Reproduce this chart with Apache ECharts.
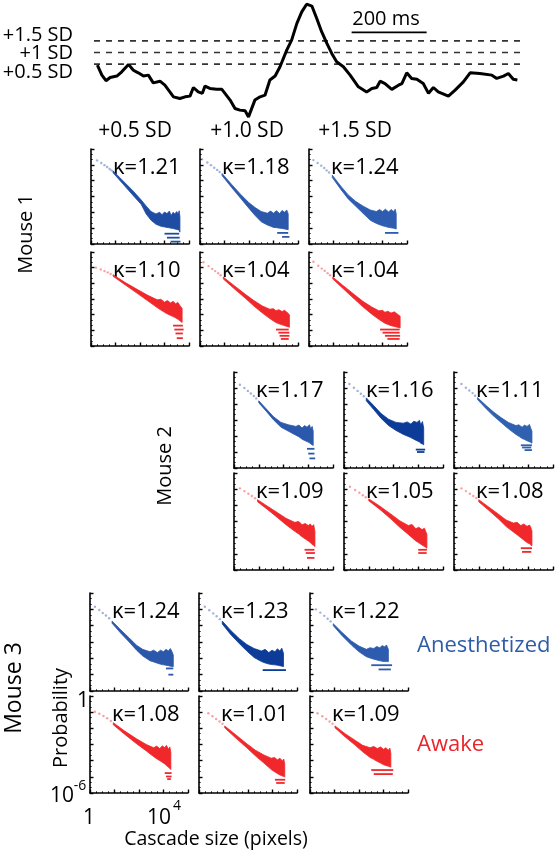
<!DOCTYPE html>
<html><head><meta charset="utf-8">
<script src="https://cdn.jsdelivr.net/npm/echarts@6/dist/echarts.min.js"></script>
<style>html,body{margin:0;padding:0;background:#fff}#c{width:559px;height:853px}</style>
</head><body><div id="c"></div><script>
// ---------------- DATA ----------------
// top trace (time in ms, amplitude in SD units)
const traceTimeMs = [9,21,32,43,61,74,92,105,118,132,145,158,176,189,212,229,243,256,265,278,289,296,309,327,341,363,376,389,403,412,429,443,456,469,483,496,514,527,541,554,567,581,594,607,621,634,647,665,683,705,727,741,754,763,776,794,812,821,834,847,861,878,892,905,918,945,963,985,1003,1029,1061,1074,1092,1105,1118,1129];
const traceSD = [0.46,0.03,-0.21,-0.07,-0.01,0.17,0.49,0.24,0.13,-0.01,0.03,-0.30,-0.23,-0.40,-0.90,-0.97,-0.90,-0.87,-0.50,-0.69,-0.75,-0.44,-0.54,-0.57,-0.58,-1.04,-1.40,-1.47,-1.50,-1.76,-1.04,-0.90,-0.83,-0.18,-0.01,0.39,1.10,1.53,2.25,2.74,3.07,2.99,2.46,1.89,1.39,0.96,0.60,0.39,0.03,-0.47,-0.69,-0.54,-0.50,-0.23,-0.33,-0.58,-0.40,-0.33,0.13,-0.11,-0.15,-0.33,-0.75,-0.50,-0.69,-0.87,-0.61,-0.26,0.13,0.10,0.03,-0.11,-0.01,0.10,-0.15,-0.18];
const thresholdsSD = [0.5, 1.0, 1.5];
const thresholdSpanMs = [0, 1136];
const thresholdLabels = ['+0.5 SD', '+1 SD', '+1.5 SD'];
const scaleBarMs = [687, 887];
const scaleBarSD = 1.86;
const scaleBarLabel = '200 ms';
const columnLabels = ['+0.5 SD', '+1.0 SD', '+1.5 SD'];
const mouseLabels = ['Mouse 1', 'Mouse 2', 'Mouse 3'];
const stateLabels = ['Anesthetized', 'Awake'];

// exponents kappa
const kappaM1Anes = [1.21, 1.18, 1.24];
const kappaM1Awake = [1.10, 1.04, 1.04];
const kappaM2Anes = [1.17, 1.16, 1.11];
const kappaM2Awake = [1.09, 1.05, 1.08];
const kappaM3Anes = [1.24, 1.23, 1.22];
const kappaM3Awake = [1.08, 1.01, 1.09];

// Cascade size distributions, log10 units: dots [log size, log P],
// body columns [log size, upper log P, lower log P], bands [log size from, log size to, log P]
const m1a05Dots = [[0.25,-0.72],[0.42,-0.88],[0.55,-1.02],[0.66,-1.14],[0.76,-1.26],[0.84,-1.35]];
const m1a05Body = [[0.9,-1.38,-1.5],[1.3,-2.0,-2.2],[1.7,-2.62,-2.9],[2.05,-3.22,-3.5],[2.25,-3.6,-4.1],[2.45,-3.95,-4.5],[2.65,-4.1,-4.75],[2.8,-4.0,-4.85],[2.9,-4.15,-4.9],[3.0,-3.98,-4.92],[3.1,-4.08,-4.95],[3.2,-3.92,-4.98],[3.27,-4.2,-5.0],[3.35,-4.0,-5.02],[3.42,-4.1,-5.05],[3.5,-3.95,-5.08],[3.56,-4.12,-5.1],[3.6,-3.9,-5.15],[3.63,-4.3,-5.25]];
const m1a05Bands = [[3.0,3.6,-5.35],[3.1,3.62,-5.6],[3.25,3.65,-5.85]];
const m1a10Dots = [[0.08,-0.65],[0.3,-0.85],[0.45,-1.02],[0.58,-1.18],[0.7,-1.32],[0.8,-1.45]];
const m1a10Body = [[0.9,-1.55,-1.68],[1.3,-2.25,-2.45],[1.65,-2.85,-3.1],[2.0,-3.4,-3.75],[2.25,-3.7,-4.2],[2.5,-3.95,-4.6],[2.75,-4.05,-4.8],[2.88,-3.92,-4.88],[3.0,-4.05,-4.95],[3.12,-3.9,-4.97],[3.25,-4.08,-5.0],[3.35,-3.88,-5.02],[3.45,-4.0,-5.05],[3.54,-3.85,-5.08],[3.6,-4.1,-5.1]];
const m1a10Bands = [[3.15,3.6,-5.3],[3.35,3.65,-5.55]];
const m1a15Dots = [[0.18,-0.7],[0.35,-0.88],[0.5,-1.05],[0.62,-1.2],[0.72,-1.35],[0.82,-1.48]];
const m1a15Body = [[0.95,-1.65,-1.8],[1.3,-2.35,-2.55],[1.6,-2.9,-3.15],[1.9,-3.3,-3.6],[2.2,-3.6,-4.05],[2.5,-3.85,-4.5],[2.75,-3.95,-4.7],[2.88,-3.82,-4.78],[3.0,-3.95,-4.85],[3.12,-3.8,-4.9],[3.25,-3.98,-4.95],[3.35,-3.82,-4.98],[3.45,-3.95,-5.0],[3.52,-3.8,-5.03],[3.56,-4.1,-5.05]];
const m1a15Bands = [[3.1,3.65,-5.3]];

const m1w05Dots = [[0.2,-1.0],[0.4,-1.12],[0.55,-1.22],[0.68,-1.3],[0.8,-1.4]];
const m1w05Body = [[0.9,-1.45,-1.55],[1.4,-1.95,-2.1],[1.9,-2.4,-2.65],[2.3,-2.75,-3.1],[2.7,-3.05,-3.55],[2.85,-3.02,-3.7],[3.0,-3.2,-3.85],[3.12,-3.1,-3.95],[3.25,-3.25,-4.05],[3.35,-3.15,-4.12],[3.45,-3.3,-4.2],[3.55,-3.22,-4.3],[3.62,-3.4,-4.38],[3.72,-3.6,-4.5]];
const m1w05Bands = [[3.35,3.75,-4.7],[3.4,3.78,-4.95],[3.45,3.75,-5.2],[3.5,3.75,-5.5]];
const m1w10Dots = [[0.14,-0.65],[0.35,-0.9],[0.5,-1.08],[0.62,-1.22],[0.74,-1.36],[0.84,-1.48]];
const m1w10Body = [[0.95,-1.6,-1.72],[1.4,-2.15,-2.35],[1.85,-2.7,-2.95],[2.2,-3.1,-3.45],[2.55,-3.45,-3.9],[2.85,-3.65,-4.25],[3.0,-3.62,-4.4],[3.1,-3.75,-4.5],[3.22,-3.68,-4.58],[3.35,-3.8,-4.65],[3.45,-3.72,-4.7],[3.55,-3.85,-4.75],[3.65,-4.0,-4.8]];
const m1w10Bands = [[3.1,3.62,-4.95],[3.2,3.65,-5.15],[3.25,3.65,-5.35],[3.3,3.62,-5.55]];
const m1w15Dots = [[0.18,-0.62],[0.38,-0.88],[0.52,-1.06],[0.64,-1.2],[0.76,-1.35],[0.86,-1.48]];
const m1w15Body = [[0.97,-1.6,-1.72],[1.4,-2.15,-2.35],[1.85,-2.72,-3.0],[2.2,-3.15,-3.5],[2.55,-3.5,-3.95],[2.85,-3.75,-4.3],[3.0,-3.72,-4.45],[3.1,-3.85,-4.55],[3.22,-3.78,-4.62],[3.35,-3.9,-4.7],[3.48,-3.82,-4.75],[3.6,-3.95,-4.8],[3.72,-4.1,-4.85]];
const m1w15Bands = [[2.9,3.7,-4.95],[3.0,3.7,-5.15],[3.1,3.72,-5.35],[3.2,3.7,-5.55]];

const m2a05Dots = [[0.24,-0.8],[0.42,-1.0],[0.56,-1.18],[0.68,-1.34],[0.8,-1.5],[0.9,-1.65]];
const m2a05Body = [[1.0,-1.8,-1.92],[1.3,-2.3,-2.45],[1.6,-2.8,-3.0],[1.9,-3.15,-3.45],[2.2,-3.3,-3.7],[2.5,-3.4,-3.95],[2.62,-3.32,-4.05],[2.75,-3.5,-4.2],[2.85,-3.35,-4.28],[2.95,-3.45,-4.35],[3.05,-3.3,-4.42],[3.1,-3.55,-4.5],[3.16,-3.4,-4.55],[3.2,-3.7,-4.6]];
const m2a05Bands = [[2.95,3.25,-4.8],[3.0,3.25,-5.1],[3.05,3.28,-5.4]];
const m2a10Dots = [[0.22,-0.75],[0.4,-0.98],[0.55,-1.18],[0.68,-1.36],[0.8,-1.52]];
const m2a10Body = [[0.9,-1.62,-1.8],[1.2,-2.1,-2.35],[1.5,-2.6,-2.9],[1.8,-2.95,-3.35],[2.1,-3.15,-3.65],[2.4,-3.2,-3.9],[2.55,-3.12,-4.0],[2.7,-3.25,-4.1],[2.82,-3.08,-4.2],[2.95,-3.15,-4.3],[3.05,-3.02,-4.38],[3.1,-3.3,-4.45],[3.17,-3.1,-4.5],[3.22,-3.5,-4.55]];
const m2a10Bands = [[2.9,3.28,-4.85],[2.95,3.25,-5.0]];
const m2a15Dots = [[0.3,-0.75],[0.48,-0.98],[0.62,-1.16],[0.75,-1.32],[0.85,-1.48]];
const m2a15Body = [[0.95,-1.6,-1.72],[1.3,-2.1,-2.3],[1.6,-2.5,-2.75],[1.9,-2.85,-3.15],[2.2,-3.15,-3.55],[2.5,-3.35,-3.9],[2.62,-3.3,-4.02],[2.75,-3.45,-4.15],[2.85,-3.32,-4.22],[2.95,-3.4,-4.3],[3.05,-3.28,-4.36],[3.1,-3.5,-4.4],[3.15,-3.7,-4.45]];
const m2a15Bands = [[2.7,3.15,-4.58],[2.75,3.12,-4.72],[2.85,3.15,-4.88]];

const m2w05Dots = [[0.24,-0.95],[0.42,-1.12],[0.58,-1.28],[0.72,-1.42],[0.85,-1.56]];
const m2w05Body = [[0.95,-1.65,-1.78],[1.35,-2.05,-2.25],[1.75,-2.45,-2.75],[2.1,-2.8,-3.2],[2.45,-3.05,-3.6],[2.62,-3.0,-3.78],[2.75,-3.2,-3.95],[2.88,-3.12,-4.08],[3.0,-3.25,-4.2],[3.08,-3.15,-4.3],[3.15,-3.3,-4.4],[3.22,-3.2,-4.48],[3.27,-3.6,-4.55]];
const m2w05Bands = [[2.85,3.25,-4.75],[2.9,3.27,-4.95],[2.95,3.25,-5.25]];
const m2w10Dots = [[0.24,-0.85],[0.45,-1.05],[0.62,-1.22],[0.76,-1.38],[0.88,-1.5]];
const m2w10Body = [[1.0,-1.6,-1.72],[1.45,-2.05,-2.25],[1.9,-2.55,-2.85],[2.25,-2.95,-3.35],[2.6,-3.25,-3.8],[2.75,-3.18,-4.0],[2.9,-3.45,-4.2],[3.02,-3.35,-4.32],[3.15,-3.5,-4.45],[3.25,-3.42,-4.55],[3.3,-3.6,-4.6],[3.35,-3.8,-4.65]];
const m2w10Bands = [[3.0,3.35,-4.75],[3.0,3.34,-4.95]];
const m2w15Dots = [[0.3,-0.95],[0.48,-1.12],[0.64,-1.28],[0.78,-1.42],[0.9,-1.55]];
const m2w15Body = [[1.0,-1.65,-1.78],[1.4,-2.1,-2.3],[1.8,-2.55,-2.85],[2.1,-2.9,-3.3],[2.4,-3.1,-3.65],[2.55,-3.05,-3.82],[2.7,-3.25,-4.0],[2.82,-3.15,-4.15],[2.95,-3.3,-4.3],[3.05,-3.22,-4.38],[3.1,-3.35,-4.45],[3.15,-3.6,-4.5]];
const m2w15Bands = [[2.7,3.15,-4.65],[2.75,3.12,-4.88]];

const m3a05Dots = [[0.2,-0.84],[0.38,-1.04],[0.52,-1.22],[0.65,-1.38],[0.78,-1.55]];
const m3a05Body = [[0.9,-1.72,-1.85],[1.25,-2.25,-2.45],[1.6,-2.75,-3.0],[1.9,-3.2,-3.5],[2.15,-3.45,-3.85],[2.45,-3.6,-4.15],[2.6,-3.5,-4.22],[2.75,-3.65,-4.3],[2.88,-3.5,-4.36],[3.0,-3.6,-4.4],[3.1,-3.45,-4.42],[3.2,-3.55,-4.45],[3.28,-3.4,-4.48],[3.35,-3.6,-4.5],[3.4,-3.8,-4.5]];
const m3a05Bands = [[3.1,3.4,-4.62],[3.2,3.4,-5.0]];
const m3a10Dots = [[0.24,-0.84],[0.42,-1.05],[0.58,-1.25],[0.72,-1.42],[0.85,-1.6]];
const m3a10Body = [[0.95,-1.72,-1.9],[1.3,-2.3,-2.55],[1.65,-2.8,-3.1],[1.95,-3.15,-3.55],[2.25,-3.4,-3.95],[2.55,-3.55,-4.2],[2.7,-3.45,-4.28],[2.85,-3.65,-4.35],[2.98,-3.5,-4.38],[3.1,-3.6,-4.4],[3.2,-3.42,-4.42],[3.3,-3.55,-4.45],[3.38,-3.38,-4.48],[3.45,-3.7,-4.5]];
const m3a10Bands = [[2.6,3.55,-4.72]];
const m3a15Dots = [[0.24,-1.0],[0.42,-1.2],[0.58,-1.4],[0.72,-1.58],[0.84,-1.74]];
const m3a15Body = [[0.95,-1.88,-2.0],[1.3,-2.4,-2.6],[1.7,-2.95,-3.2],[2.0,-3.25,-3.6],[2.3,-3.45,-3.9],[2.45,-3.35,-3.98],[2.6,-3.4,-4.05],[2.72,-3.28,-4.1],[2.85,-3.35,-4.15],[2.95,-3.22,-4.18],[3.05,-3.3,-4.2],[3.12,-3.18,-4.2],[3.2,-3.45,-4.2]];
const m3a15Bands = [[2.5,3.35,-4.42],[2.8,3.3,-4.68]];

const m3w05Dots = [[0.2,-0.97],[0.38,-1.1],[0.55,-1.24],[0.7,-1.38],[0.85,-1.55]];
const m3w05Body = [[0.95,-1.65,-1.78],[1.4,-2.15,-2.35],[1.9,-2.65,-2.95],[2.3,-3.0,-3.4],[2.6,-3.2,-3.75],[2.72,-3.1,-3.88],[2.85,-3.25,-4.0],[2.95,-3.08,-4.1],[3.05,-3.2,-4.2],[3.12,-3.05,-4.3],[3.2,-3.3,-4.4],[3.26,-3.15,-4.48],[3.3,-3.5,-4.55]];
const m3w05Bands = [[3.05,3.33,-4.77],[3.1,3.33,-4.98],[3.15,3.3,-5.14]];
const m3w10Dots = [[0.38,-1.07],[0.55,-1.25],[0.7,-1.42],[0.84,-1.58],[0.96,-1.72]];
const m3w10Body = [[1.05,-1.85,-1.97],[1.5,-2.4,-2.6],[1.95,-2.95,-3.2],[2.3,-3.35,-3.7],[2.65,-3.65,-4.15],[2.95,-3.85,-4.55],[3.08,-3.8,-4.68],[3.2,-3.95,-4.8],[3.3,-3.85,-4.88],[3.4,-4.0,-4.95],[3.46,-3.9,-4.98],[3.5,-4.2,-5.0]];
const m3w10Bands = [[3.1,3.52,-5.18],[3.15,3.5,-5.38]];
const m3w15Dots = [[0.31,-1.07],[0.5,-1.25],[0.66,-1.42],[0.8,-1.58],[0.92,-1.72]];
const m3w15Body = [[1.02,-1.85,-1.97],[1.45,-2.35,-2.55],[1.85,-2.75,-3.05],[2.15,-3.05,-3.45],[2.45,-3.2,-3.8],[2.6,-3.12,-3.92],[2.75,-3.25,-4.05],[2.88,-3.15,-4.15],[3.0,-3.3,-4.25],[3.1,-3.2,-4.3],[3.2,-3.35,-4.35],[3.26,-3.22,-4.38],[3.3,-3.55,-4.4]];
const m3w15Bands = [[2.5,3.4,-4.58],[2.6,3.38,-4.83]];

// ---------------- LAYOUT / STYLE ----------------
const FONT = 'Open Sans';
const BLUE = '#2b58aa', NAVY = '#0c3c98', RED = '#f0282c';
const panelGeom = [
  {lefts:[91,200,309], tops:[149,252], w:98, hs:[95,94]},
  {lefts:[234,344,454], tops:[372,473], w:99, hs:[96,97]},
  {lefts:[90,199,310], tops:[593,696], w:98, hs:[98,97]}
];
const panels = [
  [[m1a05Dots,m1a05Body,m1a05Bands,'#1f4da3'],[m1a10Dots,m1a10Body,m1a10Bands,BLUE],[m1a15Dots,m1a15Body,m1a15Bands,'#2d5cb0']],
  [[m1w05Dots,m1w05Body,m1w05Bands,RED],[m1w10Dots,m1w10Body,m1w10Bands,RED],[m1w15Dots,m1w15Body,m1w15Bands,RED]],
  [[m2a05Dots,m2a05Body,m2a05Bands,BLUE],[m2a10Dots,m2a10Body,m2a10Bands,NAVY],[m2a15Dots,m2a15Body,m2a15Bands,'#3060b0']],
  [[m2w05Dots,m2w05Body,m2w05Bands,RED],[m2w10Dots,m2w10Body,m2w10Bands,RED],[m2w15Dots,m2w15Body,m2w15Bands,RED]],
  [[m3a05Dots,m3a05Body,m3a05Bands,BLUE],[m3a10Dots,m3a10Body,m3a10Bands,NAVY],[m3a15Dots,m3a15Body,m3a15Bands,'#2d5cae']],
  [[m3w05Dots,m3w05Body,m3w05Bands,RED],[m3w10Dots,m3w10Body,m3w10Bands,RED],[m3w15Dots,m3w15Body,m3w15Bands,RED]]
];
const kappas = [kappaM1Anes,kappaM1Awake,kappaM2Anes,kappaM2Awake,kappaM3Anes,kappaM3Awake];

const grids = [], xAxes = [], yAxes = [], series = [], graphics = [];

// top trace
grids.push({left:94, top:0, width:450, height:122.5});
xAxes.push({gridIndex:0, type:'value', min:0, max:1200, show:false});
yAxes.push({gridIndex:0, type:'value', min:-2, max:3.25, show:false});
thresholdsSD.forEach(v => series.push({type:'line', xAxisIndex:0, yAxisIndex:0, showSymbol:false, silent:true,
  data:[[thresholdSpanMs[0], v],[thresholdSpanMs[1], v]], lineStyle:{color:'#333', width:1.7, type:[6,6]}}));
series.push({type:'line', xAxisIndex:0, yAxisIndex:0, showSymbol:false, silent:true,
  data: traceTimeMs.map((t,i)=>[t, traceSD[i]]), lineStyle:{color:'#000', width:3}, z:5});
series.push({type:'line', xAxisIndex:0, yAxisIndex:0, showSymbol:false, silent:true,
  data:[[scaleBarMs[0], scaleBarSD],[scaleBarMs[1], scaleBarSD]], lineStyle:{color:'#000', width:1.8}});

function txt(x, y, text, size, opts) {
  opts = opts || {};
  graphics.push({type:'text', x:x, y:y, rotation: opts.rot || 0, silent:true,
    style:{text:text, fontFamily:FONT, fontSize:size, fill: opts.color || '#000',
      textAlign: opts.align || 'center', textVerticalAlign:'middle'}});
}
txt(73, 35, thresholdLabels[2], 20, {align:'right'});
txt(73, 53, thresholdLabels[1], 20, {align:'right'});
txt(73, 72, thresholdLabels[0], 20, {align:'right'});
txt(386, 19, scaleBarLabel, 20);

// panels
let gi = 1;
for (let r = 0; r < 6; r++) {
  const m = Math.floor(r/2), row = r % 2, g = panelGeom[m];
  for (let c = 0; c < 3; c++) {
    const [dots, body, bands, color] = panels[r][c];
    const left = g.lefts[c], top = g.tops[row], w = g.w, h = g.hs[row];
    grids.push({left:left, top:top, width:w, height:h});
    xAxes.push({gridIndex:gi, type:'value', min:0, max:4, interval:1,
      axisLine:{show:true, onZero:false, lineStyle:{color:'#000', width:1.6}},
      axisTick:{show:true, inside:true, length:3.5, lineStyle:{color:'#000', width:1.4}},
      minorTick:{show:true, splitNumber:4, length:1.6, lineStyle:{color:'#000', width:1}},
      axisLabel:{show:false}, splitLine:{show:false}});
    yAxes.push({gridIndex:gi, type:'value', min:-6, max:0, interval:1,
      axisLine:{show:true, onZero:false, lineStyle:{color:'#000', width:1.6}},
      axisTick:{show:true, inside:true, length:3.5, lineStyle:{color:'#000', width:1.4}},
      minorTick:{show:true, splitNumber:3, length:1.6, lineStyle:{color:'#000', width:1}},
      axisLabel:{show:false}, splitLine:{show:false}});
    const dotColor = color === RED ? 'rgba(240,40,44,0.55)' : 'rgba(40,80,160,0.55)';
    series.push({type:'scatter', xAxisIndex:gi, yAxisIndex:gi, data:dots, symbol:'circle', symbolSize:2.4,
      itemStyle:{color:dotColor}, silent:true});
    const bodyRef = body;
    series.push({type:'custom', xAxisIndex:gi, yAxisIndex:gi, data:body, encode:{x:0, y:[1,2]}, silent:true, clip:false,
      renderItem:(params, api) => {
        if (params.dataIndex !== 0) return null;
        const pts = [];
        for (const col of bodyRef) pts.push(api.coord([col[0], col[1]]));
        for (let i = bodyRef.length-1; i >= 0; i--) pts.push(api.coord([bodyRef[i][0], bodyRef[i][2]]));
        return {type:'polygon', shape:{points:pts}, style:{fill:color, stroke:color, lineWidth:0.8}};
      }});
    series.push({type:'custom', xAxisIndex:gi, yAxisIndex:gi, data:bands, encode:{x:[0,1], y:2}, silent:true, clip:false,
      renderItem:(params, api) => {
        const a = api.coord([api.value(0), api.value(2)]);
        const b = api.coord([api.value(1), api.value(2)]);
        return {type:'rect', shape:{x:a[0], y:a[1]-0.9, width:b[0]-a[0], height:1.8}, style:{fill:color}};
      }});
    txt(left + 22, top + 19, '\u03ba=' + kappas[r][c].toFixed(2), 22, {align:'left'});
    gi++;
  }
}

// text labels
txt(135, 131, columnLabels[0], 21);
txt(247, 131, columnLabels[1], 21);
txt(355, 131, columnLabels[2], 21);
txt(26, 234, mouseLabels[0], 20, {rot:Math.PI/2});
txt(165, 466, mouseLabels[1], 20, {rot:Math.PI/2});
txt(14, 688, mouseLabels[2], 23, {rot:Math.PI/2});
txt(61, 718, 'Probability', 20, {rot:Math.PI/2});
txt(83, 701, '1', 21);
txt(62, 796, '10', 21);
txt(80, 786, '-6', 14);
txt(89, 818, '1', 21);
txt(159, 818, '10', 21);
txt(177, 806, '4', 14);
txt(216, 839, 'Cascade size (pixels)', 19.5);
txt(417, 646, stateLabels[0], 22, {align:'left', color:'#2f5ca8'});
txt(417, 745, stateLabels[1], 22, {align:'left', color:'#e8262c'});

const chart = echarts.init(document.getElementById('c'), null, {renderer:'canvas'});
chart.setOption({animation:false, grid:grids, xAxis:xAxes, yAxis:yAxes, series:series, graphic:graphics});
</script></body></html>
